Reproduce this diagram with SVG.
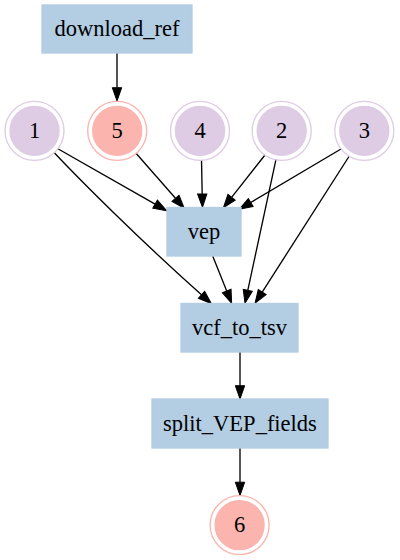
<svg xmlns="http://www.w3.org/2000/svg" width="400" height="560" viewBox="0 0 400 560">
<defs>
<style>
text{font-family:"Liberation Serif","Times New Roman",serif;font-size:22.5px;fill:#000;text-anchor:middle}
.box{fill:#b3cde3;stroke:#b3cde3;stroke-width:1.33}
.pin{fill:#decbe4;stroke:#decbe4;stroke-width:1.33}
.pout{fill:none;stroke:#decbe4;stroke-width:1.33}
.rin{fill:#fbb4ae;stroke:#fbb4ae;stroke-width:1.33}
.rout{fill:none;stroke:#fbb4ae;stroke-width:1.33}
.e{fill:none;stroke:#000;stroke-width:1.33;marker-end:url(#arr)}
</style>
<marker id="arr" markerUnits="userSpaceOnUse" markerWidth="14" markerHeight="10" refX="0" refY="4.67" orient="auto" overflow="visible">
<path d="M0,0 L13.3,4.67 L0,9.33 Z" fill="#000" stroke="#000" stroke-width="1"/>
</marker>
</defs>
<g id="connectors">
<path class="e" d="M117,53 L117,87.7"/>
<path class="e" d="M58.3,149 L155.1,204.1"/>
<path class="e" d="M136,153.3 L175.5,198.3"/>
<path class="e" d="M201.5,160 L202.2,194"/>
<path class="e" d="M265,155 L231.6,197.3"/>
<path class="e" d="M341,149 L250.7,202.5"/>
<path class="e" d="M54.3,152.7 C80,180 140,240 201.5,294.8"/>
<path class="e" d="M212.7,256 L226.7,291"/>
<path class="e" d="M276,159.3 L247.8,290.3"/>
<path class="e" d="M349.3,156 L262.2,292.1"/>
<path class="e" d="M240,352 L240,385.7"/>
<path class="e" d="M240,448 L240,482.2"/>
</g>
<g id="download_ref"><rect class="box" x="42" y="5" width="150" height="48"/><text x="117" y="35.8">download_ref</text></g>
<g id="n1"><circle class="pout" cx="34.5" cy="130.8" r="29.5"/><circle class="pin" cx="34.5" cy="130.8" r="24.5"/><text x="34.5" y="137.5">1</text></g>
<g id="n5"><circle class="rout" cx="117.2" cy="130.8" r="29.5"/><circle class="rin" cx="117.2" cy="130.8" r="24.5"/><text x="117.2" y="137.5">5</text></g>
<g id="n4"><circle class="pout" cx="200" cy="130.8" r="29.5"/><circle class="pin" cx="200" cy="130.8" r="24.5"/><text x="200" y="137.5">4</text></g>
<g id="n2"><circle class="pout" cx="281.7" cy="130.8" r="29.5"/><circle class="pin" cx="281.7" cy="130.8" r="24.5"/><text x="281.7" y="137.5">2</text></g>
<g id="n3"><circle class="pout" cx="364.3" cy="130.8" r="29.5"/><circle class="pin" cx="364.3" cy="130.8" r="24.5"/><text x="364.3" y="137.5">3</text></g>
<g id="vep"><rect class="box" x="167" y="207.5" width="74" height="48.5"/><text x="204" y="238.5">vep</text></g>
<g id="vcf_to_tsv"><rect class="box" x="181" y="303.5" width="117" height="48.5"/><text x="239.5" y="334.5">vcf_to_tsv</text></g>
<g id="split_VEP_fields"><rect class="box" x="152" y="399" width="176" height="49"/><text x="240" y="430.5">split_VEP_fields</text></g>
<g id="n6"><circle class="rout" cx="239.6" cy="525.1" r="29.5"/><circle class="rin" cx="239.6" cy="525.1" r="24.5"/><text x="239.6" y="531.8">6</text></g>
</svg>
